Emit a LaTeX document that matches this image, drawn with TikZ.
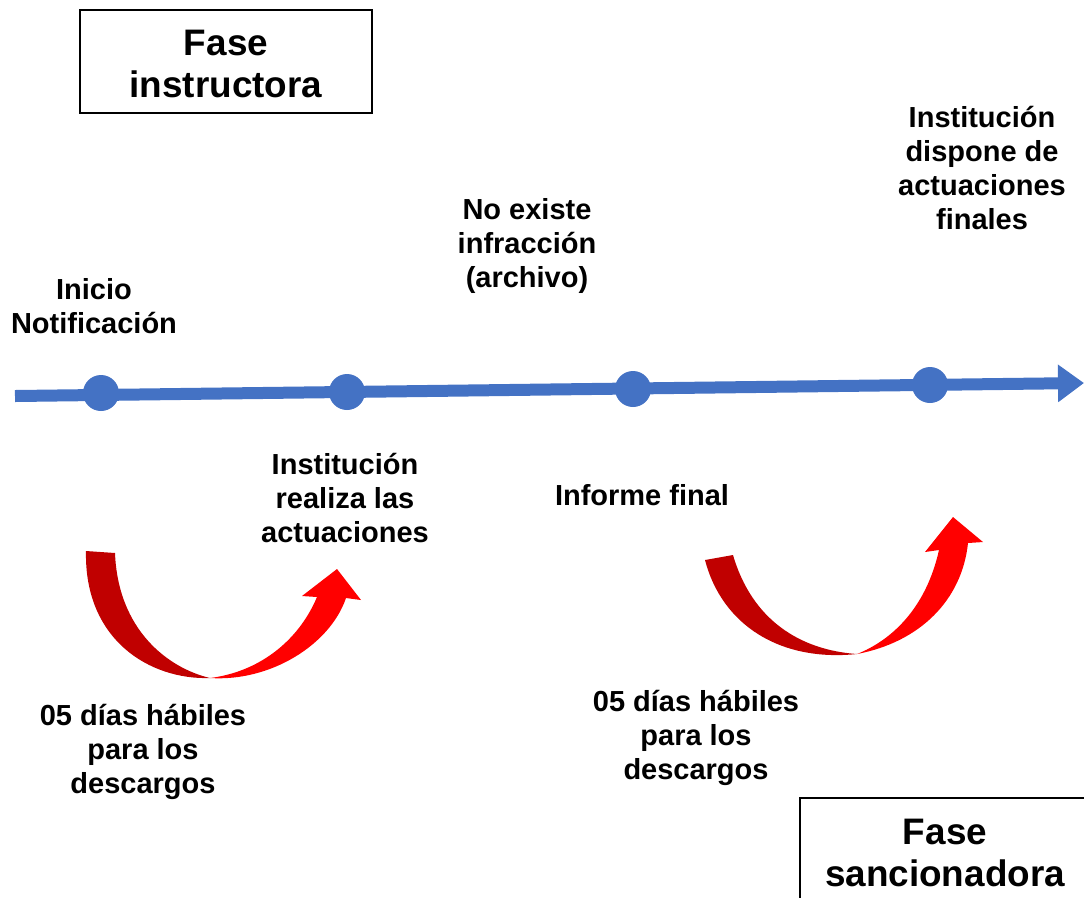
\documentclass[tikz,border=0pt]{standalone}
\usepackage{fontspec}
\setmainfont{Liberation Sans}
\usetikzlibrary{arrows.meta}
\definecolor{lineblue}{HTML}{4472C4}
\definecolor{darkred}{HTML}{C00000}
\definecolor{brightred}{HTML}{FF0000}
\tikzstyle{dot}=[fill=lineblue,circle,inner sep=0pt,minimum size=0.72cm]
\tikzstyle{txt}=[align=center,inner sep=0pt,font=\bfseries\fontsize{16.5}{19.5}\selectfont]
\tikzstyle{phase}=[align=center,inner sep=0pt,font=\bfseries\fontsize{21}{24}\selectfont]
\tikzstyle{phasebox}=[draw=black,line width=0.6pt]

\begin{document}
\begin{tikzpicture}[x=0.02cm,y=-0.02cm]
  \useasboundingbox (0,0) rectangle (1084,897);

  % time line with its four points
  \coordinate (tstart) at (15,396);
  \coordinate (tend) at (1084,383);
  \draw[lineblue,line width=0.24cm,-{Triangle[length=0.52cm,width=0.72cm]}] (tstart) -- (tend);
  \foreach \n/\x/\y in {1/101/393,2/347/392,3/633/389,4/930/385}{
    \node[dot] (d\n) at (\x,\y) {};
  }

  % phases
  \draw[phasebox] (80,10) rectangle (372,113);
  \node[phase] (instr) at (226,64) {Fase\\instructora};
  \draw[phasebox] (800,798) rectangle (1100,920);
  \node[phase] (sanc) at (945,853) {Fase\\sancionadora};

  % labels above and below the line
  \node[txt] (inicio) at (94,306) {Inicio\\Notificación};
  \node[txt] (archivo) at (527,246) {No existe\\infracción\\(archivo)};
  \node[txt] (finales) at (982,168) {Institución\\dispone de\\actuaciones\\finales};
  \node[txt] (realiza) at (345,498) {Institución\\realiza las\\actuaciones};
  \node[txt] (informe) at (642,495) {Informe final};
  \node[txt] (plazo1) at (143,752) {05 días hábiles\\para los\\descargos};
  \node[txt] (plazo2) at (696,738) {05 días hábiles\\para los\\descargos};

  % curved arrows
  \fill[darkred] (86,551) .. controls (84,640) and (150,680) .. (210,678)
    .. controls (168,668) and (118,630) .. (115,553) -- cycle;
  \fill[brightred] (210,678) .. controls (270,682) and (330,645) .. (346,598)
    -- (361,600) -- (337,569) -- (302,596) -- (317,597)
    .. controls (298,642) and (258,672) .. (210,678) -- cycle;

  \fill[darkred] (705,560) .. controls (722,625) and (780,662) .. (857,654)
    .. controls (800,650) and (752,620) .. (733,555) -- cycle;
  \fill[brightred] (857,654) .. controls (920,642) and (962,600) .. (968,543)
    -- (983,542) -- (953,517) -- (925,552) -- (939,550)
    .. controls (926,608) and (892,640) .. (857,654) -- cycle;
\end{tikzpicture}
\end{document}
